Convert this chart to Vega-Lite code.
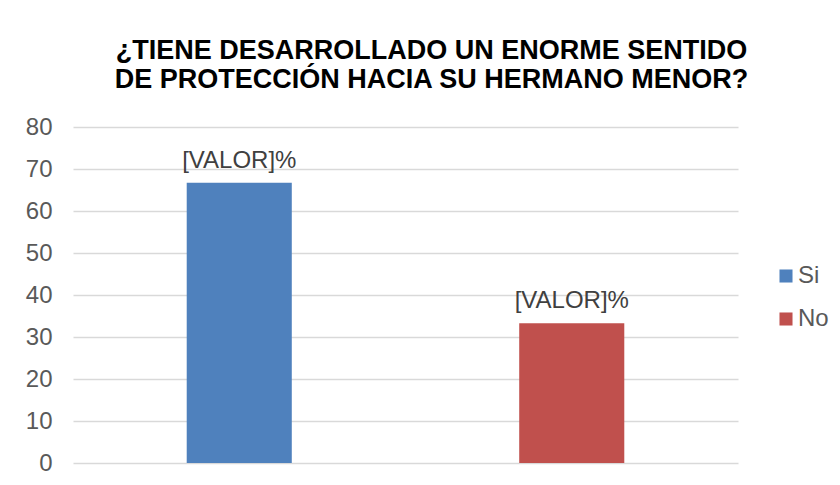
{
  "$schema": "https://vega.github.io/schema/vega-lite/v6.json",
  "width": 665,
  "height": 336,
  "autosize": {"type": "none"},
  "padding": {"left": 73, "top": 127, "right": 102, "bottom": 22},
  "background": "white",
  "config": {
    "font": "Liberation Sans",
    "view": {"stroke": null}
  },
  "title": {
    "text": ["¿TIENE DESARROLLADO UN ENORME SENTIDO", "DE PROTECCIÓN HACIA SU HERMANO MENOR?"],
    "font": "Liberation Sans",
    "fontSize": 27,
    "fontWeight": "bold",
    "color": "#000000",
    "lineHeight": 29,
    "anchor": "middle",
    "frame": "group",
    "dx": 26,
    "offset": 21
  },
  "data": {
    "values": [
      {"respuesta": "Si", "valor": 66.7, "etiqueta": "[VALOR]%"},
      {"respuesta": "No", "valor": 33.3, "etiqueta": "[VALOR]%"}
    ]
  },
  "encoding": {
    "x": {
      "field": "respuesta",
      "type": "nominal",
      "sort": ["Si", "No"],
      "scale": {"paddingInner": 0, "paddingOuter": 0},
      "axis": null
    },
    "y": {
      "field": "valor",
      "type": "quantitative",
      "scale": {"domain": [0, 80], "nice": false},
      "axis": {
        "values": [0, 10, 20, 30, 40, 50, 60, 70, 80],
        "title": null,
        "grid": true,
        "gridColor": "#d9d9d9",
        "gridWidth": 1.5,
        "domain": false,
        "ticks": false,
        "labelPadding": 21,
        "labelFontSize": 24,
        "labelColor": "#595959",
        "labelFont": "Liberation Sans"
      }
    }
  },
  "layer": [
    {
      "mark": {"type": "bar", "width": {"band": 0.316}},
      "encoding": {
        "color": {
          "field": "respuesta",
          "type": "nominal",
          "sort": ["Si", "No"],
          "scale": {"domain": ["Si", "No"], "range": ["#4F81BD", "#C0504D"]},
          "legend": {
            "title": null,
            "orient": "none",
            "legendX": 701,
            "legendY": 137,
            "symbolType": "square",
            "symbolSize": 170,
            "symbolStrokeWidth": 0,
            "labelFontSize": 24,
            "labelColor": "#595959",
            "labelFont": "Liberation Sans",
            "labelOffset": 0,
            "rowPadding": 19
          }
        }
      }
    },
    {
      "mark": {
        "type": "text",
        "baseline": "alphabetic",
        "dy": -15,
        "fontSize": 24,
        "color": "#404040",
        "font": "Liberation Sans"
      },
      "encoding": {
        "text": {"field": "etiqueta", "type": "nominal"}
      }
    }
  ]
}
